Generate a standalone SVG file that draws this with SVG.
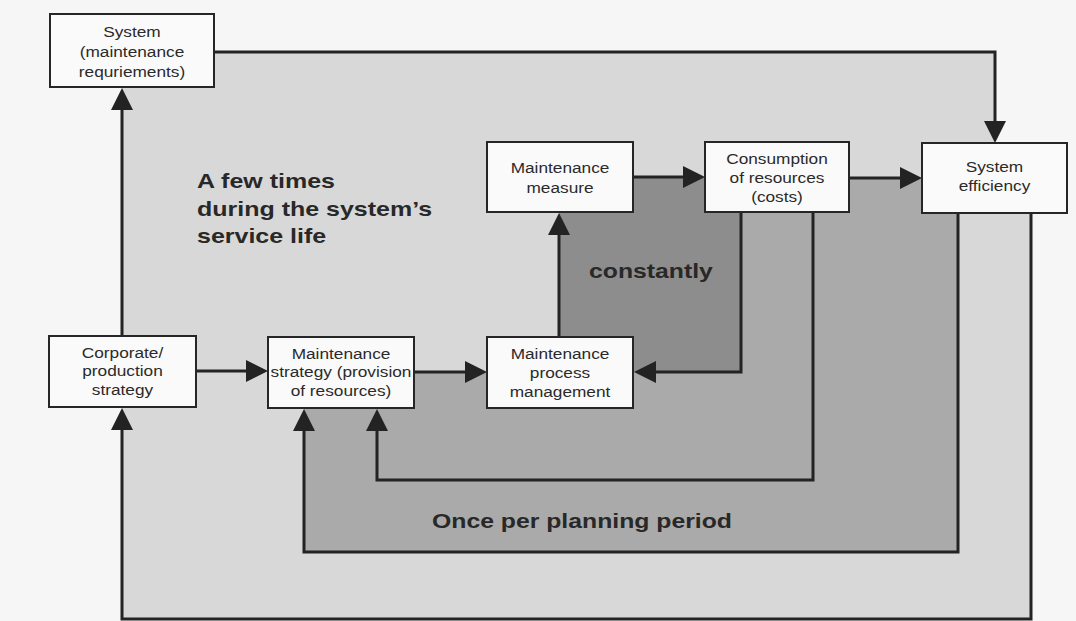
<svg xmlns="http://www.w3.org/2000/svg" width="1076" height="621" viewBox="0 0 1076 621">
  <defs>
    <marker id="ah" markerUnits="userSpaceOnUse" markerWidth="24" markerHeight="24" refX="12" refY="11" orient="auto">
      <path d="M0,0 L22,11 L0,22 Z" fill="#232323"/>
    </marker>
    <style>
      .box{fill:#fafafa;stroke:#262626;stroke-width:2}
      .lbl{font-family:"Liberation Sans",Arial,sans-serif;font-size:15px;fill:#2a2a2a;text-anchor:middle}
      .big{font-family:"Liberation Sans",Arial,sans-serif;font-size:21px;font-weight:bold;fill:#282828}
      .wire{fill:none;stroke:#232323;stroke-width:3;marker-end:url(#ah)}
    </style>
  </defs>

  <!-- page -->
  <rect x="0" y="0" width="1076" height="621" fill="#f6f6f6"/>

  <!-- shaded frequency zones -->
  <g id="zones">
    <polygon id="zone-service-life" points="122,52 995,52 995,150 1031,150 1031,619 122,619" fill="#d8d8d8"/>
    <polygon id="zone-planning" points="741,212 849,212 849,178 922,178 922,213 958,213 958,552 304,552 304,408 414,408 414,372 741,372" fill="#aaaaaa"/>
    <polygon id="zone-constant" points="559,212 633,212 633,177 705,177 705,212 741,212 741,372 559,372" fill="#8d8d8d"/>
  </g>

  <!-- zone captions -->
  <g id="captions">
    <text class="big" transform="translate(197,187.5) scale(1.19,1)">A few times</text>
    <text class="big" transform="translate(197,215.5) scale(1.19,1)">during the system’s</text>
    <text class="big" transform="translate(197,243) scale(1.19,1)">service life</text>
    <text class="big" transform="translate(589,278) scale(1.18,1)">constantly</text>
    <text class="big" transform="translate(432,528) scale(1.18,1)">Once per planning period</text>
  </g>

  <!-- connectors -->
  <g id="connectors">
    <path class="wire" d="M122,336 V98"/>
    <path class="wire" d="M214,52 H995 V133"/>
    <path class="wire" d="M196,371 H258"/>
    <path class="wire" d="M414,372 H477"/>
    <path class="wire" d="M559,337 V223"/>
    <path class="wire" d="M633,177 H695"/>
    <path class="wire" d="M849,178 H912"/>
    <path class="wire" d="M741,212 V372 H644"/>
    <path class="wire" d="M813,212 V480 H377 V419"/>
    <path class="wire" d="M958,213 V552 H304 V419"/>
    <path class="wire" d="M1031,213 V619 H122 V418"/>
  </g>

  <!-- nodes -->
  <g id="system-requirements">
    <rect class="box" x="50" y="14" width="164" height="73"/>
    <text class="lbl" transform="translate(132,37) scale(1.15,1)"><tspan x="0">System</tspan><tspan x="0" dy="20">(maintenance</tspan><tspan x="0" dy="20">requriements)</tspan></text>
  </g>
  <g id="maintenance-measure">
    <rect class="box" x="487" y="142" width="146" height="70"/>
    <text class="lbl" transform="translate(560,173) scale(1.15,1)"><tspan x="0">Maintenance</tspan><tspan x="0" dy="20">measure</tspan></text>
  </g>
  <g id="consumption">
    <rect class="box" x="705" y="142" width="144" height="70"/>
    <text class="lbl" transform="translate(777,164) scale(1.15,1)"><tspan x="0">Consumption</tspan><tspan x="0" dy="19">of resources</tspan><tspan x="0" dy="19">(costs)</tspan></text>
  </g>
  <g id="system-efficiency">
    <rect class="box" x="922" y="143" width="145" height="70"/>
    <text class="lbl" transform="translate(994.5,172) scale(1.15,1)"><tspan x="0">System</tspan><tspan x="0" dy="19.5">efficiency</tspan></text>
  </g>
  <g id="corporate-strategy">
    <rect class="box" x="49" y="336" width="147" height="71"/>
    <text class="lbl" transform="translate(122.5,358) scale(1.15,1)"><tspan x="0">Corporate/</tspan><tspan x="0" dy="18.5">production</tspan><tspan x="0" dy="18.5">strategy</tspan></text>
  </g>
  <g id="maintenance-strategy">
    <rect class="box" x="268" y="337" width="146" height="71"/>
    <text class="lbl" transform="translate(341,359) scale(1.15,1)"><tspan x="0">Maintenance</tspan><tspan x="0" dy="18.5">strategy (provision</tspan><tspan x="0" dy="18.5">of resources)</tspan></text>
  </g>
  <g id="process-management">
    <rect class="box" x="487" y="337" width="146" height="71"/>
    <text class="lbl" transform="translate(560,359) scale(1.15,1)"><tspan x="0">Maintenance</tspan><tspan x="0" dy="19">process</tspan><tspan x="0" dy="19">management</tspan></text>
  </g>
</svg>
